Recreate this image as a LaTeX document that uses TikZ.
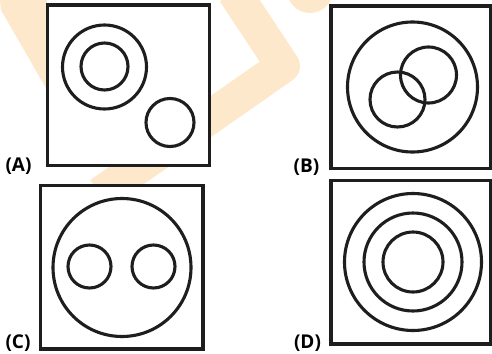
\documentclass[tikz,border=0pt]{standalone}
\usepackage{fontspec}
\setmainfont{Open Sans}
\definecolor{wmark}{RGB}{253,232,204}
\definecolor{ink}{RGB}{30,30,30}

\begin{document}
\begin{tikzpicture}[x=1pt,y=-1pt,
                    every node/.style={draw=ink,line width=3.1pt,inner sep=0pt},
                    ring/.style={circle,minimum size=#1},
                    frame/.style={rectangle,fill=white,minimum width=#1},
                    tag/.style={draw=none,font=\bfseries\fontsize{19}{19}\selectfont}]
  \useasboundingbox (0,0) rectangle (492,353);
  % watermark behind the frames
  \fill[wmark] (0,0) -- (47,0) -- (47,90) -- (1,10) -- cycle;
  \fill[wmark] (310,-10) circle (23);
  \draw[wmark,line width=34pt,line join=round] (234,-8) -- (283,66) -- (100,194);
  % frames
  \node[frame=162pt,minimum height=160.5pt]   (boxA) at (128.5,85.25)  {};
  \node[frame=160pt,minimum height=162.5pt]   (boxB) at (411,87.25)    {};
  \node[frame=162.5pt,minimum height=163.5pt] (boxC) at (121.75,267.25) {};
  \node[frame=160pt,minimum height=163.5pt]   (boxD) at (411,262.25)   {};
  % (A)
  \node[ring=84pt]  (a1) at (104.5,67)  {};
  \node[ring=47pt]  (a2) at (104.5,66.5) {};
  \node[ring=48pt]  (a3) at (170,122.5) {};
  % (B)
  \node[ring=130pt] (b1) at (412.5,87)  {};
  \node[ring=55pt]  (b2) at (397.5,99.5) {};
  \node[ring=56pt]  (b3) at (428.5,75)  {};
  % (C)
  \node[ring=138pt] (c1) at (122,267.5) {};
  \node[ring=43pt]  (c2) at (89.5,266.5) {};
  \node[ring=43pt]  (c3) at (153.5,266.5) {};
  % (D)
  \node[ring=137pt] (d1) at (413,262) {};
  \node[ring=98pt]  (d2) at (413,262) {};
  \node[ring=60pt]  (d3) at (413,262) {};
  % labels
  \node[tag] (labA) at (18.5,166.5) {(A)};
  \node[tag] (labB) at (306.5,167)  {(B)};
  \node[tag] (labC) at (18,343.5)   {(C)};
  \node[tag] (labD) at (307.5,343)  {(D)};
\end{tikzpicture}
\end{document}
